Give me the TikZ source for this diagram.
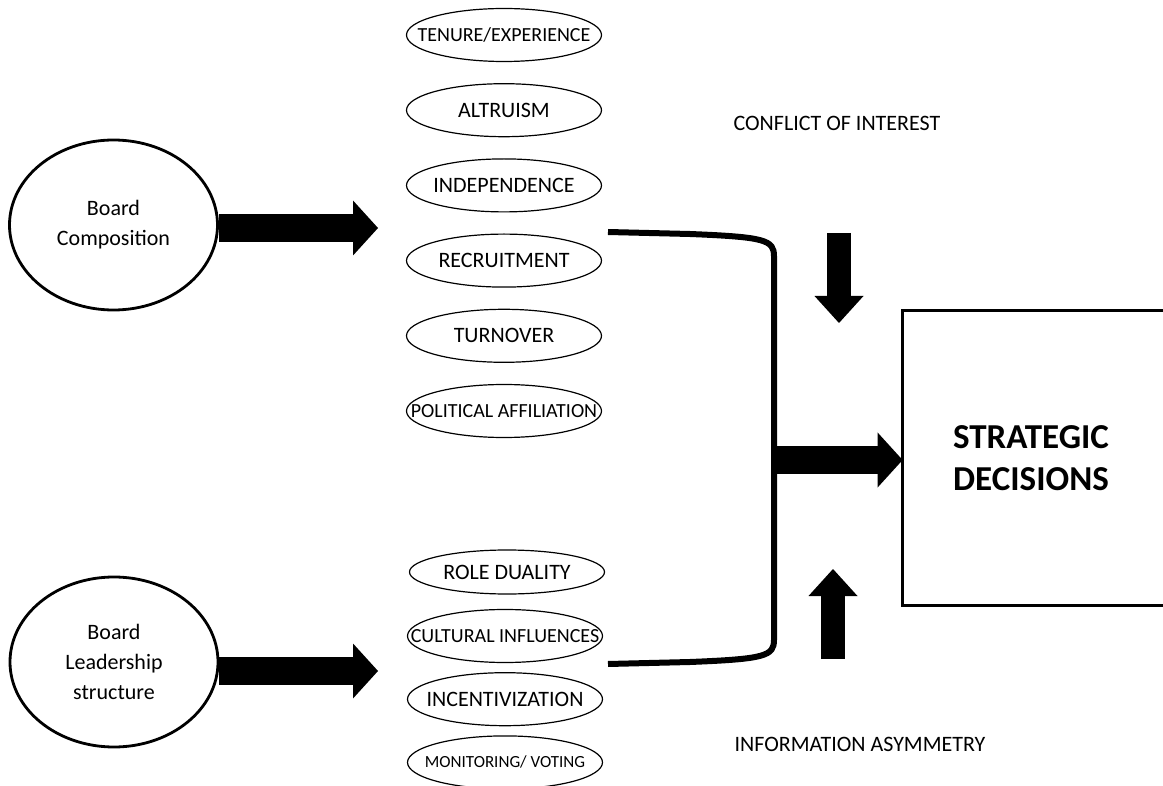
\documentclass[tikz,border=0pt]{standalone}
\usepackage{fontspec}
\setmainfont{Carlito}
\usetikzlibrary{positioning,shapes.geometric,arrows.meta}
\newcommand{\tagtxt}[1]{\makebox[0pt]{#1}}

\begin{document}
\begin{tikzpicture}[
    x=0.5pt, y=-0.5pt,
    every node/.style={align=center, font=\fontsize{11}{15}\selectfont},
    board/.style={draw, ellipse, line width=1.4pt, minimum width=104pt, minimum height=85pt, inner sep=0pt},
    tag/.style={draw, ellipse, line width=0.6pt, minimum width=97.5pt, minimum height=26.5pt, inner sep=0pt},
    small/.style={font=\fontsize{10}{12}\selectfont},
    fat/.style={line width=14pt, -{Triangle[width=27.5pt, length=12.5pt, line width=0pt]}},
    slim/.style={line width=12pt, -{Triangle[width=24.5pt, length=13.5pt, line width=0pt]}},
    bracket/.style={line width=3pt},
    node distance=10.5pt
]
\useasboundingbox (0,0) rectangle (1163,786);
\clip (0,0) rectangle (1163,786);

% Board boxes on the left
\node[board] (bc) at (113.5,225) {Board\\Composition};
\node[board] (bl) at (114,662) {Board\\Leadership\\structure};

% Composition attributes
\node[tag, small] (tenure) at (504,35) {\tagtxt{TENURE/EXPERIENCE}};
\node[tag, below=of tenure] (altruism) {\tagtxt{ALTRUISM}};
\node[tag, below=of altruism] (indep) {\tagtxt{INDEPENDENCE}};
\node[tag, below=of indep] (recruit) {\tagtxt{RECRUITMENT}};
\node[tag, below=of recruit] (turnover) {\tagtxt{TURNOVER}};
\node[tag, small, below=of turnover] (political) {\tagtxt{POLITICAL AFFILIATION}};

% Leadership attributes
\node[tag, minimum height=22pt] (duality) at (507,572) {\tagtxt{ROLE DUALITY}};
\node[tag, small] (cultural) at (505,636) {\tagtxt{CULTURAL INFLUENCES}};
\node[tag, below=4.5pt of cultural] (incent) {\tagtxt{INCENTIVIZATION}};
\node[tag, below=4.5pt of incent, font=\fontsize{8.5}{10}\selectfont] (monitor) {\tagtxt{MONITORING/ VOTING}};

% Outcome
\node[minimum width=128pt, minimum height=147.5pt, font=\fontsize{17.5}{21}\selectfont\bfseries] (sd) at (1031,458) {STRATEGIC\\DECISIONS};
\draw[line width=1.5pt] ([xshift=20pt]sd.north east) -- (sd.north west) -- (sd.south west) -- ([xshift=20pt]sd.south east);

% Moderators
\node (coi) at (837,123) {CONFLICT OF INTEREST};
\node (ia) at (860,744) {INFORMATION ASYMMETRY};

% Arrows into the attribute lists
\coordinate (bcto) at (378,228);
\coordinate (blto) at (378,671);
\draw[fat] (bc.east |- bcto) -- (bcto);
\draw[fat] (bl.east |- blto) -- (blto);

% Bracket joining both lists
\coordinate (mid) at (774,460);
\draw[bracket] (608,232) -- (690,234) .. controls (765,237) and (774,240) .. (774,256)
    -- (774,640) .. controls (774,656) and (765,659) .. (690,662) -- (608,664);
\draw[fat] (mid) -- (sd.west |- mid);

% Moderator arrows
\coordinate (downfrom) at (839,233);
\coordinate (downto) at (839,323);
\coordinate (upfrom) at (833,659);
\coordinate (upto) at (833,569);
\draw[slim] (downfrom) -- (downto);
\draw[slim] (upfrom) -- (upto);

\end{tikzpicture}
\end{document}
